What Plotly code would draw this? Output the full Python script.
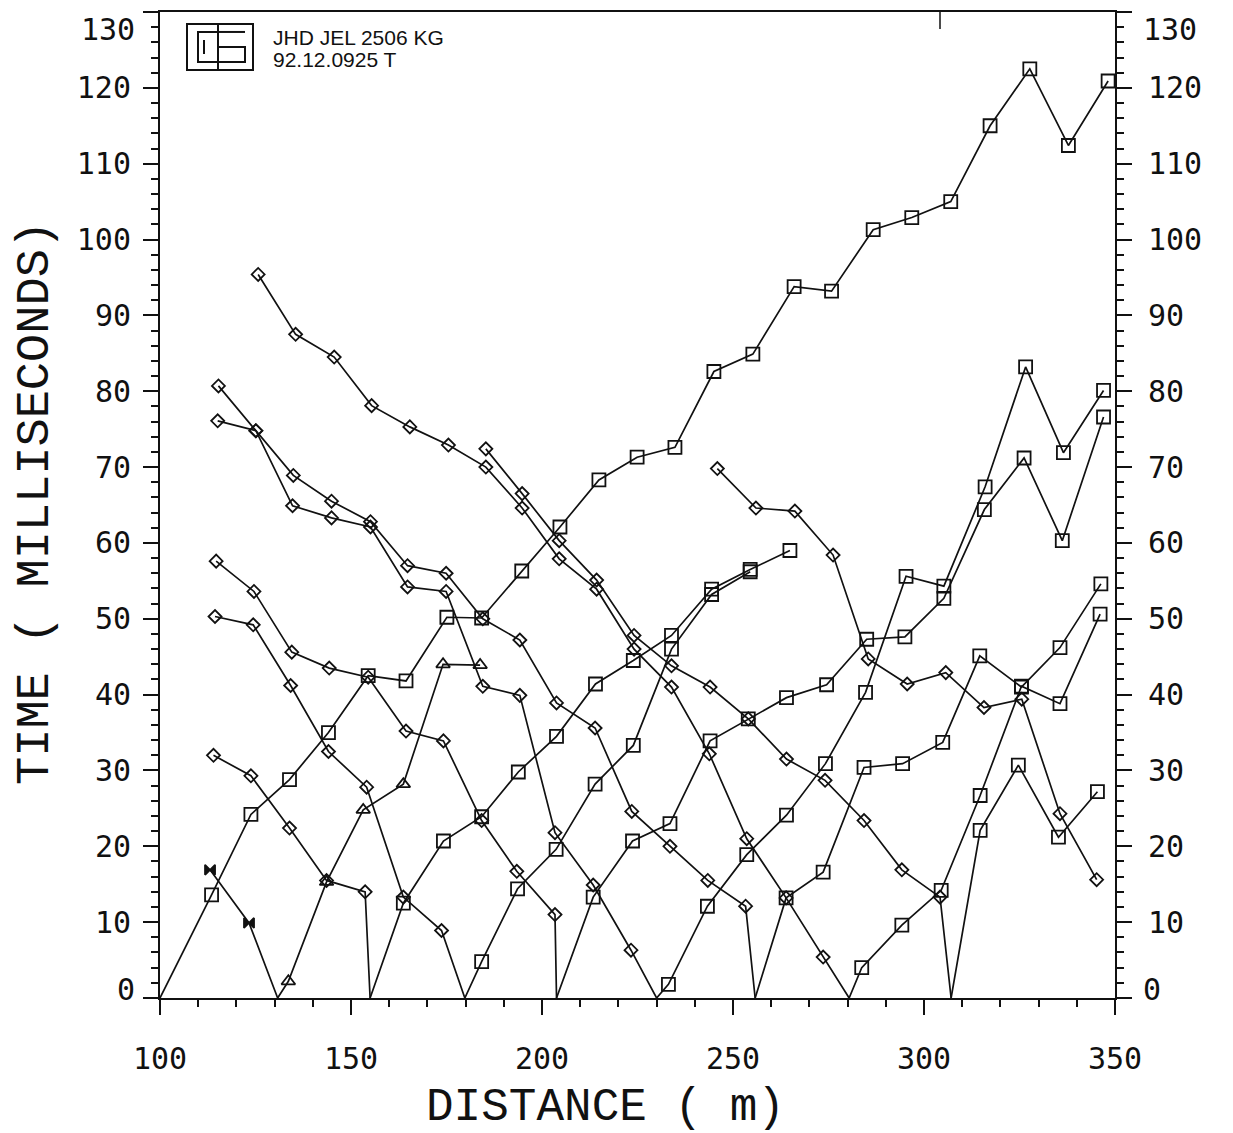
import plotly.graph_objects as go

# Shot point positions along the profile (m); first-break time there is 0 ms
shot_100 = 100.0
shot_131 = 130.8
shot_155 = 155.0
shot_180 = 179.8
shot_204 = 203.8
shot_230 = 230.0
shot_256 = 255.8
shot_280 = 280.4
shot_307 = 307.1

# Forward (to the right) and reverse (to the left) first-break branches: distance (m), time (ms)
f100_x = [113.5, 123.8, 133.9, 144.1, 154.5, 164.4, 175.1, 184.2, 194.7, 204.7, 214.9, 224.9,
          234.8, 245.0, 255.2, 266.0, 275.8, 286.7, 296.8, 307.0, 317.3, 327.7, 337.8, 348.2]
f100_t = [13.6, 24.2, 28.8, 35.0, 42.5, 41.8, 50.2, 50.1, 56.3, 62.1, 68.3, 71.3,
          72.6, 82.6, 84.9, 93.8, 93.2, 101.3, 102.9, 105.0, 115.0, 122.5, 112.4, 120.9]

f131_x = [133.6, 143.6, 153.2, 163.7, 174.1, 183.8]
f131_t = [2.2, 15.3, 24.8, 28.2, 44.0, 43.9]
r131_x = [113.1, 123.3]
r131_t = [16.9, 9.9]

f155_x = [163.7, 174.2, 184.2, 193.8, 203.8, 214.0, 223.9, 233.9, 244.4, 254.5, 264.9]
f155_t = [12.5, 20.7, 23.9, 29.8, 34.5, 41.4, 44.5, 47.8, 53.9, 56.5, 59.0]
r155_x = [114.0, 123.8, 133.9, 143.6, 153.7]
r155_t = [32.0, 29.3, 22.4, 15.5, 14.0]

f180_x = [184.2, 193.6, 203.7, 213.9, 223.9, 233.9, 244.4, 254.5]
f180_t = [4.8, 14.4, 19.6, 28.2, 33.3, 46.0, 53.2, 56.2]
r180_x = [114.4, 124.4, 134.2, 144.1, 154.1, 163.7, 173.7]
r180_t = [50.3, 49.2, 41.2, 32.5, 27.8, 13.3, 8.9]

f204_x = [213.4, 223.7, 233.5, 244.0, 254.0, 264.0, 274.5, 285.0, 295.0, 305.2, 315.8, 326.2, 336.2, 347.0]
f204_t = [13.3, 20.7, 23.0, 33.9, 36.8, 39.6, 41.3, 47.3, 47.6, 52.7, 64.4, 71.2, 60.3, 76.6]
r204_x = [114.7, 124.6, 134.5, 144.3, 154.5, 164.4, 174.2, 184.2, 193.4, 203.4]
r204_t = [57.6, 53.6, 45.6, 43.5, 42.3, 35.2, 33.9, 23.4, 16.7, 11.0]

f230_x = [233.1, 243.3, 253.6, 264.0, 274.2, 284.7, 295.3, 305.2, 316.0, 326.6, 336.5, 347.0]
f230_t = [1.8, 12.1, 18.9, 24.1, 30.9, 40.3, 55.6, 54.3, 67.4, 83.2, 71.9, 80.1]
r230_x = [115.1, 125.1, 134.7, 144.9, 155.1, 164.8, 174.9, 184.5, 194.2, 203.4, 213.4, 223.3]
r230_t = [76.1, 74.8, 64.9, 63.3, 62.1, 54.2, 53.6, 41.1, 39.9, 21.8, 14.9, 6.3]

f256_x = [263.9, 273.6, 284.3, 294.4, 304.9, 314.6, 325.5, 335.6, 346.3]
f256_t = [13.2, 16.6, 30.4, 30.9, 33.7, 45.1, 41.0, 46.2, 54.6]
r256_x = [115.3, 125.1, 134.9, 144.9, 155.1, 164.8, 174.9, 184.5, 194.2, 203.8, 213.9, 223.5,
          233.5, 243.4, 253.3]
r256_t = [80.7, 74.8, 68.9, 65.5, 62.8, 57.0, 56.0, 50.0, 47.2, 38.9, 35.6, 24.6,
          20.0, 15.5, 12.1]

f280_x = [283.7, 294.2, 304.5, 314.7, 325.5, 335.6, 346.1]
f280_t = [4.0, 9.6, 14.2, 26.7, 41.1, 38.8, 50.6]
r280_x = [125.7, 135.5, 145.6, 155.4, 165.4, 175.5, 185.3, 194.8, 204.5, 214.3, 224.1, 233.9,
          243.8, 253.6, 263.9, 273.6]
r280_t = [95.4, 87.5, 84.5, 78.1, 75.3, 72.9, 70.0, 64.6, 57.9, 53.9, 46.0, 41.0,
          32.2, 21.0, 13.2, 5.4]

f307_x = [314.7, 324.7, 335.2, 345.4]
f307_t = [22.1, 30.7, 21.2, 27.2]
r307_x = [185.3, 194.8, 204.5, 214.3, 224.1, 233.9, 244.0, 254.0, 264.0, 274.1, 284.3, 294.2, 304.2]
r307_t = [72.4, 66.5, 60.3, 55.1, 47.8, 43.8, 41.0, 36.8, 31.5, 28.7, 23.4, 16.9, 13.3]

# Off-end reverse shot (beyond the end of the spread)
roff_x = [245.9, 256.0, 266.2, 276.2, 285.4, 295.6, 305.7, 315.7, 325.6, 335.6, 345.2]
roff_t = [69.8, 64.6, 64.2, 58.4, 44.7, 41.4, 42.9, 38.3, 39.4, 24.3, 15.6]

x_ticks = [100, 150, 200, 250, 300, 350]
y_ticks = list(range(0, 131, 10))
# end labels are set slightly inside the frame, so they are drawn separately
y_tick_text = ["" if v in (0, 130) else str(v) for v in y_ticks]

INK = "#111111"
LW = 1.7

fig = go.Figure()


def add_branch(shot, xs, ts, symbol, size, forward):
    """Line from the shot point through the picks, with open markers on the picks."""
    if forward:
        lx, lt = [shot] + xs, [0.0] + ts
    else:
        lx, lt = xs + [shot], ts + [0.0]
    fig.add_trace(go.Scatter(x=lx, y=lt, mode="lines",
                             line=dict(color=INK, width=LW),
                             hoverinfo="skip", showlegend=False))
    fig.add_trace(go.Scatter(x=xs, y=ts, mode="markers",
                             marker=dict(symbol=symbol, size=size, color=INK,
                                         line=dict(color=INK, width=1.8)),
                             showlegend=False))


SQ, SQS = "square-open", 13
DM, DMS = "diamond-open", 10

add_branch(shot_100, f100_x, f100_t, SQ, SQS, True)
add_branch(shot_131, f131_x, f131_t, "triangle-up-open", 12, True)
add_branch(shot_131, r131_x, r131_t, "bowtie", 10, False)
add_branch(shot_155, f155_x, f155_t, SQ, SQS, True)
add_branch(shot_155, r155_x, r155_t, DM, DMS, False)
add_branch(shot_180, f180_x, f180_t, SQ, SQS, True)
add_branch(shot_180, r180_x, r180_t, DM, DMS, False)
add_branch(shot_204, f204_x, f204_t, SQ, SQS, True)
add_branch(shot_204, r204_x, r204_t, DM, DMS, False)
add_branch(shot_230, f230_x, f230_t, SQ, SQS, True)
add_branch(shot_230, r230_x, r230_t, DM, DMS, False)
add_branch(shot_256, f256_x, f256_t, SQ, SQS, True)
add_branch(shot_256, r256_x, r256_t, DM, DMS, False)
add_branch(shot_280, f280_x, f280_t, SQ, SQS, True)
add_branch(shot_280, r280_x, r280_t, DM, DMS, False)
add_branch(shot_307, f307_x, f307_t, SQ, SQS, True)
add_branch(shot_307, r307_x, r307_t, DM, DMS, False)

# off-end branch has no shot inside the plotted range
fig.add_trace(go.Scatter(x=roff_x, y=roff_t, mode="lines+markers",
                         line=dict(color=INK, width=LW),
                         marker=dict(symbol=DM, size=DMS, color=INK,
                                     line=dict(color=INK, width=1.8)),
                         showlegend=False))

# carrier for the right-hand time axis
fig.add_trace(go.Scatter(x=[None], y=[None], yaxis="y2", showlegend=False))

tick_font = dict(family="DejaVu Sans Mono", size=30, color=INK)
yaxis_common = dict(range=[0, 130], tickvals=y_ticks, ticktext=y_tick_text,
                    ticks="outside", ticklen=15,
                    tickwidth=2, tickcolor=INK, showline=True, linewidth=2, linecolor=INK,
                    showgrid=False, zeroline=False, tickfont=tick_font,
                    minor=dict(dtick=2, tick0=0, ticks="outside", ticklen=7,
                               tickwidth=1.5, tickcolor=INK, showgrid=False))

fig.update_layout(
    width=1233, height=1133,
    margin=dict(l=160, r=118, t=10, b=135),
    paper_bgcolor="white", plot_bgcolor="white",
    xaxis=dict(range=[100, 350], tickvals=x_ticks, ticks="outside", ticklen=15,
               tickwidth=2, tickcolor=INK, showline=True, linewidth=2, linecolor=INK,
               mirror=True, showgrid=False, zeroline=False, tickfont=tick_font,
               ticklabelstandoff=18,
               minor=dict(dtick=10, tick0=100, ticks="outside", ticklen=7,
                          tickwidth=1.5, tickcolor=INK, showgrid=False)),
    yaxis=dict(**yaxis_common, ticklabelstandoff=6),
    yaxis2=dict(**yaxis_common, overlaying="y", side="right", ticklabelstandoff=10),
)

W, H = 955.0, 988.0  # plot area size in pixels


def px(x, y):
    """Pixel position in the page to paper coordinates."""
    return (x - 160) / W, (998 - y) / H


# end labels of both time axes
for val, yy in ((130, 28), (0, 989)):
    ax, ay = px(137, yy)
    fig.add_annotation(x=ax, y=ay, xref="paper", yref="paper", text=str(val),
                       showarrow=False, xanchor="right", yanchor="middle", font=tick_font)
    ax, ay = px(1141, yy)
    fig.add_annotation(x=ax, y=ay, xref="paper", yref="paper", text=str(val),
                       showarrow=False, xanchor="left", yanchor="middle", font=tick_font)

# axis titles
ax, ay = px(35, 502)
fig.add_annotation(x=ax, y=ay, xref="paper", yref="paper", text="TIME ( MILLISECONDS)",
                   textangle=-90, showarrow=False, xanchor="center", yanchor="middle",
                   font=dict(family="Liberation Mono", size=47, color=INK))
ax, ay = px(605, 1108)
fig.add_annotation(x=ax, y=ay, xref="paper", yref="paper", text="DISTANCE ( m)",
                   showarrow=False, xanchor="center", yanchor="middle",
                   font=dict(family="Liberation Mono", size=46, color=INK))

# header label
for text, yy in (("JHD JEL 2506 KG", 36), ("92.12.0925 T", 58)):
    ax, ay = px(271, yy)
    fig.add_annotation(x=ax, y=ay, xref="paper", yref="paper", text=text,
                       showarrow=False, xanchor="left", yanchor="middle",
                       font=dict(family="Liberation Sans", size=21, color=INK))


# boxed "05" emblem
def rect(x0, y0, x1, y1, w=2):
    a0, b0 = px(x0, y1)
    a1, b1 = px(x1, y0)
    fig.add_shape(type="rect", xref="paper", yref="paper", x0=a0, y0=b0, x1=a1, y1=b1,
                  line=dict(color=INK, width=w))


def seg(pts, w=2):
    d = ""
    for i, (x, y) in enumerate(pts):
        a, b = px(x, y)
        d += ("M" if i == 0 else "L") + f"{a},{b} "
    fig.add_shape(type="path", xref="paper", yref="paper", path=d.strip(),
                  line=dict(color=INK, width=w))


rect(187, 22, 253, 68)
rect(198, 30, 218, 60)
seg([(204, 38), (204, 52)])
seg([(218, 22), (218, 68)])
seg([(245, 30), (218, 30)])
seg([(218, 45), (245, 45), (245, 60), (218, 60)])

# short marker tick hanging from the top frame
seg([(940, 10), (940, 27)], w=1.5)

fig.write_html("out.html")
